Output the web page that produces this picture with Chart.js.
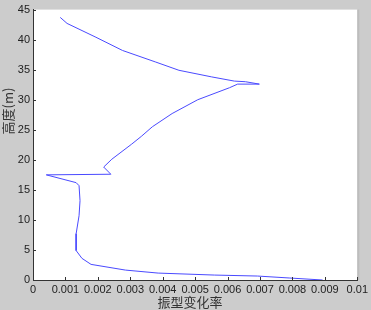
<!DOCTYPE html>
<html>
<head>
<meta charset="utf-8">
<script src="https://cdn.jsdelivr.net/npm/chart.js"></script>
<style>
  body { margin: 0; background: #cccccc; }
  canvas { display: block; }
</style>
</head>
<body>
<canvas id="mode-chart" width="371" height="310"></canvas>
<script>
// heights (m) going along the curve, from the top point down to the ground
let heights = [43.7, 42.7, 40.4, 38.2, 36.3, 34.9, 33.8, 33.1, 33.0, 32.6,
  32.6, 32.0, 30.0, 27.7, 25.5, 23.9, 22.6, 20.1, 18.8, 17.6,
  17.5, 16.2, 15.7, 13.2, 10.7, 7.7, 4.9, 3.6, 2.6, 1.65,
  1.15, 0.82, 0.66, 0.33, 0];

// mode shape change rate at each of those heights
let rates = [0.00084, 0.00105, 0.00194, 0.00276, 0.00377, 0.0045, 0.00551, 0.00621, 0.00655, 0.00698,
  0.00631, 0.00606, 0.00508, 0.00429, 0.00368, 0.00334, 0.00304, 0.00243, 0.00218, 0.0024,
  0.00041, 0.00133, 0.00142, 0.00145, 0.00142, 0.00133, 0.00133, 0.00151, 0.00179, 0.00285,
  0.00386, 0.0056, 0.00692, 0.00792, 0.00893];

// tick labels
let xTicks = [0, 0.001, 0.002, 0.003, 0.004, 0.005, 0.006, 0.007, 0.008, 0.009, 0.01];
let xTickLabels = ["0", "0.001", "0.002", "0.003", "0.004", "0.005", "0.006", "0.007", "0.008", "0.009", "0.01"];
let yTicks = [0, 5, 10, 15, 20, 25, 30, 35, 40, 45];

let xTitle = "振型变化率";
let yTitle = "高度(m)";

let points = rates.map(function (r, i) {
  return { x: r, y: heights[i] };
});

// gray figure, white axes, ticks pointing inwards, titles
let matlabLook = {
  id: "matlabLook",
  beforeDraw: function (chart) {
    let ctx = chart.ctx;
    let area = chart.chartArea;
    ctx.save();
    ctx.fillStyle = "#cccccc";
    ctx.fillRect(0, 0, chart.width, chart.height);
    ctx.fillStyle = "#ffffff";
    ctx.fillRect(area.left, area.top, area.right - area.left, area.bottom - area.top);
    // faint shadow on the right edge of the axes
    ctx.fillStyle = "#bdbdbd";
    ctx.fillRect(area.right, area.top, 2, area.bottom - area.top);
    ctx.restore();
  },
  afterDraw: function (chart) {
    let ctx = chart.ctx;
    let area = chart.chartArea;
    let xScale = chart.scales.x;
    let yScale = chart.scales.y;
    ctx.save();
    ctx.strokeStyle = "#333333";
    ctx.lineWidth = 1;
    ctx.beginPath();
    xScale.ticks.forEach(function (t) {
      let px = Math.round(xScale.getPixelForValue(t.value)) + 0.5;
      ctx.moveTo(px, area.bottom);
      ctx.lineTo(px, area.bottom - 3);
    });
    yScale.ticks.forEach(function (t) {
      let py = Math.round(yScale.getPixelForValue(t.value)) + 0.5;
      ctx.moveTo(area.left, py);
      ctx.lineTo(area.left + 3, py);
    });
    ctx.stroke();

    // axis titles
    ctx.fillStyle = "#333333";
    ctx.font = "13px 'Noto Sans CJK SC'";
    ctx.textAlign = "center";
    ctx.textBaseline = "middle";
    ctx.fillText(xTitle, 190, 302);
    ctx.translate(8, 111);
    ctx.rotate(-Math.PI / 2);
    ctx.fillText(yTitle, 0, 0);
    ctx.restore();
  },
};

let chart = new Chart(document.querySelector("#mode-chart").getContext("2d"), {
  type: "scatter",
  data: {
    datasets: [
      {
        data: points,
        showLine: true,
        borderColor: "#4a4aff",
        borderWidth: 1,
        pointRadius: 0,
        tension: 0,
      },
    ],
  },
  options: {
    responsive: false,
    animation: false,
    layout: { padding: { top: 7, right: 10, left: 0, bottom: 0 } },
    plugins: { legend: { display: false }, tooltip: { enabled: false } },
    scales: {
      x: {
        type: "linear",
        min: 0,
        max: 0.01,
        afterBuildTicks: function (scale) {
          scale.ticks = xTicks.map(function (v) { return { value: v }; });
        },
        afterFit: function (scale) {
          scale.height = 30;
        },
        ticks: {
          maxRotation: 0,
          autoSkip: false,
          padding: 3,
          color: "#222222",
          font: { family: "'Liberation Sans', Arial", size: 11 },
          callback: function (v, i) {
            return xTickLabels[i];
          },
        },
        grid: { drawOnChartArea: false, drawTicks: false },
        border: { color: "#333333", width: 1 },
      },
      y: {
        type: "linear",
        min: 0,
        max: 45,
        afterBuildTicks: function (scale) {
          scale.ticks = yTicks.map(function (v) { return { value: v }; });
        },
        afterFit: function (scale) {
          scale.width = 33;
        },
        ticks: {
          autoSkip: false,
          padding: 3,
          color: "#222222",
          font: { family: "'Liberation Sans', Arial", size: 11 },
        },
        grid: { drawOnChartArea: false, drawTicks: false },
        border: { color: "#333333", width: 1 },
      },
    },
  },
  plugins: [matlabLook],
});
</script>
</body>
</html>
